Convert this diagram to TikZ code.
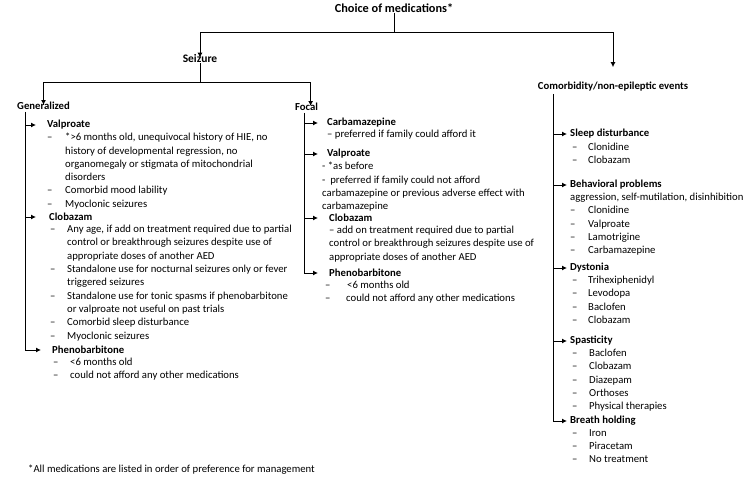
\documentclass[tikz,border=0pt]{standalone}
\usepackage{fontspec}
\setmainfont{Carlito}
\usetikzlibrary{arrows.meta}
\newcommand{\dashitem}[2][17pt]{\makebox[#1][l]{--}#2}
\newcommand{\contitem}[2][17pt]{\hspace*{#1}#2}

\begin{document}
\begin{tikzpicture}[x=1pt,y=-1pt,
  every node/.style={font=\fontsize{10.7}{13.3}\selectfont},
  head/.style={font=\fontsize{10.7}{13.3}\selectfont\bfseries,anchor=west,inner sep=0pt},
  items/.style={anchor=north west,inner sep=0pt,align=left},
  link/.style={line width=1pt},
  arr/.style={line width=1pt,-{Latex[length=5pt,width=5pt]}}]
  \useasboundingbox (0,0) rectangle (746,487);

  % top levels
  \node[head,anchor=center,font=\fontsize{12.3}{14}\selectfont\bfseries] (choice) at (394,8) {Choice of medications*};
  \node[head,anchor=center,font=\fontsize{11.5}{14}\selectfont\bfseries] (seiz) at (200,59) {Seizure};
  \node[head,anchor=center] (comor) at (613,87) {Comorbidity/non-epileptic events};
  \node[head] (gen) at (17,106) {Generalized};
  \node[head] (foc) at (295,107) {Focal};

  \coordinate (tbar) at (394,33);
  \coordinate (sbar) at (200,82);
  \draw[link] (choice) -- (tbar);
  \draw[arr] (tbar) -| ([yshift=-3pt]seiz.north);
  \draw[arr,shorten >=15pt] (tbar) -| (comor.north);
  \draw[link] (seiz) -- (sbar);
  \draw[arr] (sbar) -| ([yshift=-3pt]gen.north);
  \draw[arr] (sbar) -| ([xshift=4pt,yshift=-3pt]foc.north);

  % generalized
  \node[head] (gvalp) at (47,125) {Valproate};
  \node[items] (gvalpi) at (47,133) {\dashitem[18pt]{*>6 months old, unequivocal history of HIE, no}\\
    \contitem[18pt]{history of developmental regression, no}\\
    \contitem[18pt]{organomegaly or stigmata of mitochondrial}\\
    \contitem[18pt]{disorders}\\
    \dashitem[18pt]{Comorbid mood lability}\\
    \dashitem[18pt]{Myoclonic seizures}};
  \node[head] (gclob) at (49,217) {Clobazam};
  \node[items] (gclobi) at (50,225) {\dashitem{Any age, if add on treatment required due to partial}\\
    \contitem{control or breakthrough seizures despite use of}\\
    \contitem{appropriate doses of another AED}\\
    \dashitem{Standalone use for nocturnal seizures only or fever}\\
    \contitem{triggered seizures}\\
    \dashitem{Standalone use for tonic spasms if phenobarbitone}\\
    \contitem{or valproate not useful on past trials}\\
    \dashitem{Comorbid sleep disturbance}\\
    \dashitem{Myoclonic seizures}};
  \node[head] (gpheno) at (52,350) {Phenobarbitone};
  \node[items] (gphenoi) at (53,358) {\dashitem{<6 months old}\\
    \dashitem{could not afford any other medications}};

  \coordinate (gtrunk) at ([xshift=8pt,yshift=-2pt]gen.south west);
  \draw[arr,shorten >=11pt] (gtrunk) |- (gpheno.west);
  \draw[arr,shorten >=11pt] (gtrunk |- gvalp) -- (gvalp.west);
  \draw[arr,shorten >=13pt] (gtrunk |- gclob) -- (gclob.west);

  % focal
  \node[head] (fcarb) at (327,123) {Carbamazepine};
  \node[items] (fcarbi) at (327,130) {-- preferred if family could afford it};
  \node[head] (fvalp) at (327,154) {Valproate};
  \node[items] (fvalpi) at (322,162) {- *as before\\
    -\ \ preferred if family could not afford\\
    carbamazepine or previous adverse effect with\\
    carbamazepine};
  \node[head] (fclob) at (329,218) {Clobazam};
  \node[items] (fclobi) at (329,226) {-- add on treatment required due to partial\\
    control or breakthrough seizures despite use of\\
    appropriate doses of another AED};
  \node[head] (fpheno) at (329,273) {Phenobarbitone};
  \node[items] (fphenoi) at (325,281) {\dashitem[22pt]{<6 months old}\\
    \dashitem[21pt]{could not afford any other medications}};

  \coordinate (ftrunk) at ([xshift=9pt,yshift=-2pt]foc.south west);
  \draw[arr,shorten >=11pt] (ftrunk) |- (fpheno.west);
  \draw[arr,shorten >=9pt] (ftrunk |- fcarb) -- (fcarb.west);
  \draw[arr,shorten >=9pt] (ftrunk |- fvalp) -- (fvalp.west);
  \draw[arr,shorten >=11pt] (ftrunk |- fclob) -- (fclob.west);

  % comorbidity
  \node[head] (csleep) at (570,134) {Sleep disturbance};
  \node[items] (csleepi) at (572,143) {\dashitem[16pt]{Clonidine}\\
    \dashitem[16pt]{Clobazam}};
  \node[head] (cbeh) at (570,185) {Behavioral problems};
  \node[items] (cbehi) at (570,193) {aggression, self-mutilation, disinhibition\\
    \dashitem[18pt]{Clonidine}\\
    \dashitem[18pt]{Valproate}\\
    \dashitem[18pt]{Lamotrigine}\\
    \dashitem[18pt]{Carbamazepine}};
  \node[head] (cdyst) at (570,268) {Dystonia};
  \node[items] (cdysti) at (572,276) {\dashitem[16pt]{Trihexiphenidyl}\\
    \dashitem[16pt]{Levodopa}\\
    \dashitem[16pt]{Baclofen}\\
    \dashitem[16pt]{Clobazam}};
  \node[head] (cspas) at (570,341) {Spasticity};
  \node[items] (cspasi) at (572,349) {\dashitem[17pt]{Baclofen}\\
    \dashitem[17pt]{Clobazam}\\
    \dashitem[17pt]{Diazepam}\\
    \dashitem[17pt]{Orthoses}\\
    \dashitem[17pt]{Physical therapies}};
  \node[head] (cbreath) at (570,421) {Breath holding};
  \node[items] (cbreathi) at (572,429) {\dashitem[17pt]{Iron}\\
    \dashitem[17pt]{Piracetam}\\
    \dashitem[17pt]{No treatment}};

  \coordinate (ctrunk) at ([xshift=16pt,yshift=-2pt]comor.south west);
  \draw[arr,shorten >=3pt] (ctrunk) |- (cbreath.west);
  \foreach \h in {csleep,cbeh,cdyst,cspas}
    \draw[arr,shorten >=3pt] (ctrunk |- \h) -- (\h.west);

  % footnote
  \node[anchor=west,inner sep=0pt] (note) at (28,470) {*All medications are listed in order of preference for management};
\end{tikzpicture}
\end{document}
